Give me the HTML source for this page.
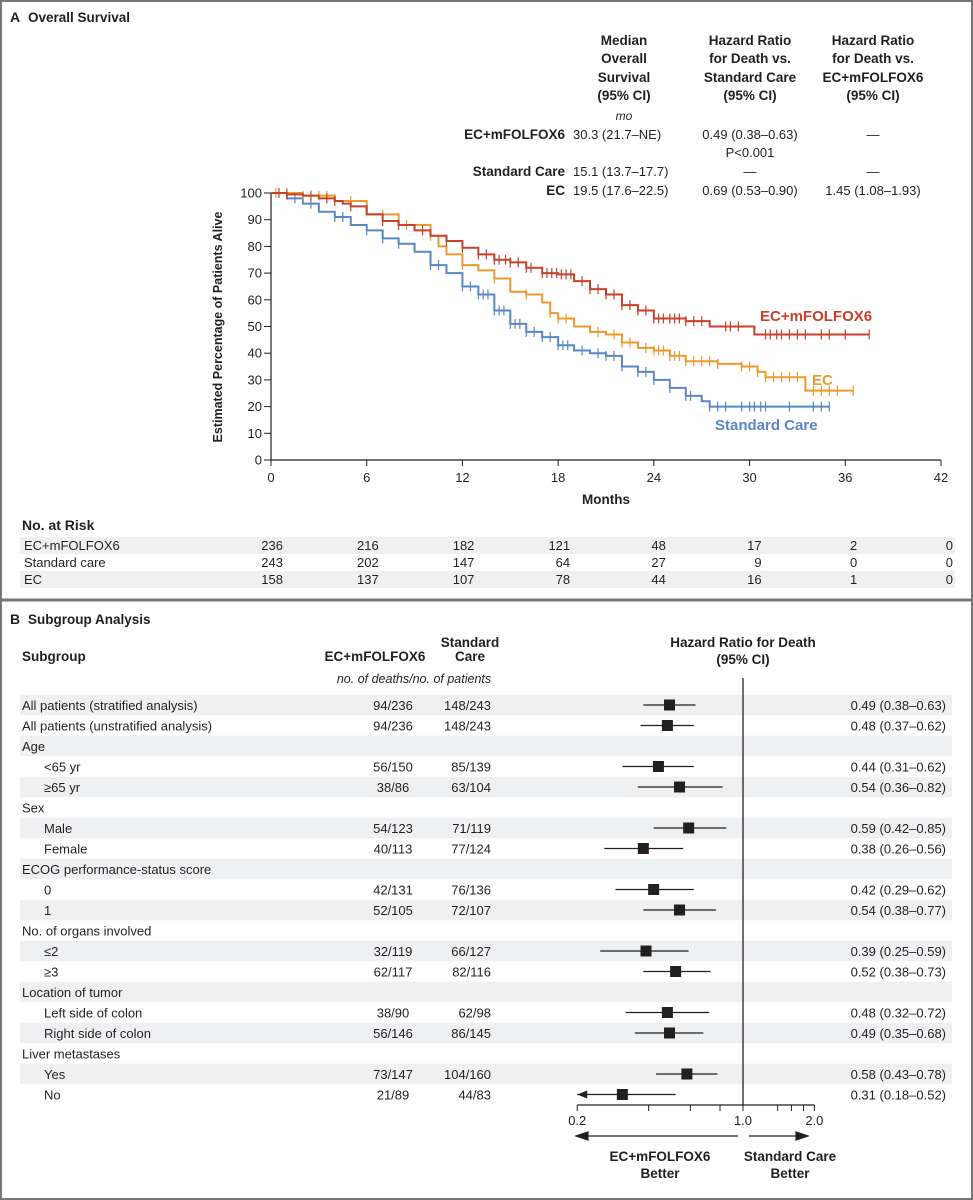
<!DOCTYPE html>
<html><head><meta charset="utf-8"><style>
html,body{margin:0;padding:0;background:#fff}
svg{display:block}
text{font-family:"Liberation Sans",sans-serif;fill:#231f20}
.b{font-weight:bold}
.w{font-family:"Liberation Sans",sans-serif}
</style></head><body>
<svg id="fig" width="973" height="1200" viewBox="0 0 973 1200" xmlns="http://www.w3.org/2000/svg">
<rect x="1" y="1" width="971" height="1198" fill="#fff" stroke="#777" stroke-width="2"/>
<line x1="0" y1="600" x2="973" y2="600" stroke="#777" stroke-width="3"/>
<g><text x="10" y="22" class="b w" font-size="14">A</text><text x="28" y="22" class="b w" font-size="13.5">Overall Survival</text></g>
<g font-size="13">
<g class="b w" text-anchor="middle" font-size="13.5">
<text x="624" y="45">Median</text><text x="624" y="63">Overall</text><text x="624" y="82">Survival</text><text x="624" y="100">(95% CI)</text>
<text x="750" y="45">Hazard Ratio</text><text x="750" y="63">for Death vs.</text><text x="750" y="82">Standard Care</text><text x="750" y="100">(95% CI)</text>
<text x="873" y="45">Hazard Ratio</text><text x="873" y="63">for Death vs.</text><text x="873" y="82">EC+mFOLFOX6</text><text x="873" y="100">(95% CI)</text>
</g>
<text x="624" y="120" text-anchor="middle" font-style="italic" font-size="12">mo</text>
<g class="b w" text-anchor="end" font-size="13.5"><text x="565" y="139">EC+mFOLFOX6</text><text x="565" y="176">Standard Care</text><text x="565" y="195">EC</text></g>
<text x="573" y="139">30.3 (21.7–NE)</text><text x="573" y="176">15.1 (13.7–17.7)</text><text x="573" y="195">19.5 (17.6–22.5)</text>
<g text-anchor="middle"><text x="750" y="139">0.49 (0.38–0.63)</text><text x="750" y="157">P&lt;0.001</text><text x="750" y="176">—</text><text x="750" y="195">0.69 (0.53–0.90)</text>
<text x="873" y="139">—</text><text x="873" y="176">—</text><text x="873" y="195">1.45 (1.08–1.93)</text></g>
</g>
<g id="km"></g>
<text transform="translate(222,327) rotate(-90)" text-anchor="middle" class="b w" font-size="12.5">Estimated Percentage of Patients Alive</text>
<text x="606" y="504" text-anchor="middle" class="b w" font-size="13.5">Months</text>
<g id="risk"></g>
<g><text x="10" y="624" class="b w" font-size="14">B</text><text x="28" y="624" class="b w" font-size="13.5">Subgroup Analysis</text></g>
<g class="b w" font-size="13.5">
<text x="22" y="661">Subgroup</text>
<text x="375" y="661" text-anchor="middle">EC+mFOLFOX6</text>
<text x="470" y="647" text-anchor="middle">Standard</text><text x="470" y="661" text-anchor="middle">Care</text>
<text x="743" y="647" text-anchor="middle">Hazard Ratio for Death</text><text x="743" y="664" text-anchor="middle">(95% CI)</text>
</g>
<text x="414" y="683" text-anchor="middle" font-style="italic" font-size="12.5">no. of deaths/no. of patients</text>
<g id="forest"></g>
<g class="b w" font-size="13.5" text-anchor="middle">
<text x="660" y="1161">EC+mFOLFOX6</text><text x="660" y="1178">Better</text>
<text x="790" y="1161">Standard Care</text><text x="790" y="1178">Better</text>
</g>
</svg>
<script>
const NS="http://www.w3.org/2000/svg";
// KM data
const xTicks=[0,6,12,18,24,30,36,42];
const yTicks=[0,10,20,30,40,50,60,70,80,90,100];
const redT=[0,1,2,3,4,4.5,5,6,7,8,9,10,11,12,13,14,15,16,17,18,19,20,21,22,23,24,26,27.5,30.3,37.5];
const redS=[100,99.5,99,98,97,96,95,92,89.5,88,86,84,82,79.5,77,75,74,72,70,69.5,67,64,62,58,56,53,52,50,47,47];
const blueT=[0,1,2,3,4,5,6,7,8,9,10,11,12,13,14,15,16,17,18,19,20,21,22,23,24,25,26,27,27.5,35];
const blueS=[100,98,96,93,91,88,86,83,81,78,73,70,65,62,56,51,48,46,43,41,40,39,35,33,30,27,24,22,20,20];
const orT=[0,2,4,6,8,10,10.5,11,12,13,14,15,16,17,17.5,18,19,20,21,22,23,24,25,26,28,29.5,30.5,31,33.5,36.5];
const orS=[100,99,97,92,88,84,80,77,73,71,68,63,62,59,55,53,50,48,47,44,42,41,39,37,36,35,33,31,26,26];
const redC=[0.5,1,2.5,3.5,4,5,7,8,9.5,11,12,13,13.5,14,14.3,14.7,15,15.5,16,16.3,17,17.3,17.6,17.9,18.2,18.5,18.8,19.5,20,20.5,21,21.5,22,22.5,23,23.5,24,24.3,24.6,25,25.3,25.6,26,26.5,27,28.5,28.8,29.3,31,31.3,31.7,32,32.5,33,33.5,34.5,35,36,37.5];
const blueC=[1.5,2.5,4,4.5,6,7,8,10,10.5,12,12.5,13,13.3,13.6,14,14.3,14.6,15,15.3,15.6,16,16.5,17,17.5,18,18.3,18.6,19.5,20.5,21,21.5,22,23,23.5,24,25,26,26.3,27.5,28,28.5,29.5,30,30.3,30.7,31,32.5,34,34.5,35];
const orC=[0.3,1,2,3,3.5,5,7,8.5,10,12,14,16,17.5,18,18.5,20.5,21.5,22,22.5,23.5,24,24.3,24.6,25,25.3,25.6,26,26.5,27,27.5,28,29.5,30,30.5,31,31.5,32,32.5,33,34,34.5,35,35.5,36.5];
// risk table
const riskGroups=["EC+mFOLFOX6","Standard care","EC"];
const riskRed=[236,216,182,121,48,17,2,0];
const riskBlue=[243,202,147,64,27,9,0,0];
const riskOr=[158,137,107,78,44,16,1,0];
// forest data
const fLabels=["All patients (stratified analysis)","All patients (unstratified analysis)","Age","<65 yr","≥65 yr","Sex","Male","Female","ECOG performance-status score","0","1","No. of organs involved","≤2","≥3","Location of tumor","Left side of colon","Right side of colon","Liver metastases","Yes","No"];
const fIndent=[0,0,0,1,1,0,1,1,0,1,1,0,1,1,0,1,1,0,1,1];
const fEC=["94/236","94/236","","56/150","38/86","","54/123","40/113","","42/131","52/105","","32/119","62/117","","38/90","56/146","","73/147","21/89"];
const fSC=["148/243","148/243","","85/139","63/104","","71/119","77/124","","76/136","72/107","","66/127","82/116","","62/98","86/145","","104/160","44/83"];
const fHR=[0.49,0.48,null,0.44,0.54,null,0.59,0.38,null,0.42,0.54,null,0.39,0.52,null,0.48,0.49,null,0.58,0.31];
const fLo=[0.38,0.37,null,0.31,0.36,null,0.42,0.26,null,0.29,0.38,null,0.25,0.38,null,0.32,0.35,null,0.43,0.18];
const fHi=[0.63,0.62,null,0.62,0.82,null,0.85,0.56,null,0.62,0.77,null,0.59,0.73,null,0.72,0.68,null,0.78,0.52];
const hrTicks=[0.2,0.4,0.6,0.8,1.0,1.4,1.6,1.8,2.0];
const hrLabels=[0.2,1.0,2.0];

function el(tag,attrs,parent,txt){const e=document.createElementNS(NS,tag);for(const k in attrs)e.setAttribute(k,attrs[k]);if(txt!==undefined)e.textContent=txt;parent.appendChild(e);return e;}
const X=m=>271+m*(941-271)/42, Y=v=>460-v*(460-193)/100;
const km=document.getElementById('km');
let ax=el('line',{x1:271,y1:Y(0),x2:941,y2:Y(0),stroke:'#231f20','stroke-width':1.2},km);


let ay=el('line',{x1:271,y1:Y(0),x2:271,y2:Y(100),stroke:'#231f20','stroke-width':1.2},km);


xTicks.forEach(t=>{el('line',{x1:X(t),y1:Y(0),x2:X(t),y2:Y(0)+6,stroke:'#231f20'},km);
 const tx=el('text',{x:X(t),y:Y(0)+22,'text-anchor':'middle','font-size':13},km,t);
 
 });
yTicks.forEach(t=>{el('line',{x1:264,y1:Y(t),x2:271,y2:Y(t),stroke:'#231f20'},km);
 const tx=el('text',{x:262,y:Y(t)+4.5,'text-anchor':'end','font-size':13},km,t);
 
 });
function surv(T,S,t){let v=S[0];for(let i=0;i<T.length;i++){if(T[i]<=t)v=S[i];}return v;}
function drawSeries(T,S,C,color,name){
 let d='M'+X(T[0])+','+Y(S[0]);
 for(let i=1;i<T.length;i++){d+=' H'+X(T[i])+' V'+Y(S[i]);}
 const p=el('path',{d:d,fill:'none',stroke:color,'stroke-width':2},km);
 
 
 let cd='';C.forEach(c=>{const y=Y(surv(T,S,c));cd+='M'+X(c)+','+(y-5)+' V'+(y+5)+' ';});
 const q=el('path',{d:cd,fill:'none',stroke:color,'stroke-width':1.2},km);
 
 
}
drawSeries(blueT,blueS,blueC,'#5a86c6','standard-care');
drawSeries(orT,orS,orC,'#eb9a2c','ec');
drawSeries(redT,redS,redC,'#c9402c','ec-mfolfox6');
let l1=el('text',{x:760,y:321,'font-size':15,'class':'b w',style:'fill:#c9402c'},km,'EC+mFOLFOX6');


let l2=el('text',{x:812,y:385,'font-size':15,'class':'b w',style:'fill:#eb9a2c'},km,'EC');


let l3=el('text',{x:715,y:430,'font-size':15,'class':'b w',style:'fill:#5a86c6'},km,'Standard Care');



const risk=document.getElementById('risk');
let rt=el('text',{x:22,y:530,'class':'b','font-size':14},risk,'No. at Risk');


const rvals=[riskRed,riskBlue,riskOr];
riskGroups.forEach((g,i)=>{const y=545+i*17;
 if(i!==1){const r=el('rect',{x:20,y:y-8,width:935,height:17,fill:'#eef0f2'},risk);}
 const lt=el('text',{x:24,y:y+5,'font-size':13},risk,g);
 
 
 rvals[i].forEach((v,j)=>{const t=el('text',{x:X(xTicks[j])+12,y:y+5,'text-anchor':'end','font-size':13},risk,v);
  
  });
});

const fo=document.getElementById('forest');
const HX=h=>743+103*Math.log(h);
fLabels.forEach((lab,i)=>{const yc=705+i*20.5;
 if(i%2===0){const r=el('rect',{x:20,y:yc-10.25,width:932,height:20.5,fill:'#eef0f2'},fo);}
 const t=el('text',{x:fIndent[i]?44:22,y:yc+5,'font-size':13,'class':'w'},fo,lab);
 
 
 if(fEC[i]){const a=el('text',{x:393,y:yc+5,'text-anchor':'middle','font-size':13,'class':'w'},fo,fEC[i]);
  
  
  const b=el('text',{x:491,y:yc+5,'text-anchor':'end','font-size':13,'class':'w'},fo,fSC[i]);
  
  }
});
let vl=el('line',{x1:743,y1:678,x2:743,y2:1106,stroke:'#231f20','stroke-width':1.3},fo);


fLabels.forEach((lab,i)=>{if(fHR[i]===null)return;const yc=705+i*20.5;
 const lo=Math.max(fLo[i],0.2);
 const ci=el('line',{x1:HX(lo),y1:yc,x2:HX(fHi[i]),y2:yc,stroke:'#231f20','stroke-width':1.3},fo);
 
 
 if(fLo[i]<0.2){const ar=el('path',{d:'M'+(HX(0.2))+','+yc+' l10,-4 v8 z',fill:'#231f20'},fo);}
 const sq=el('rect',{x:HX(fHR[i])-5.5,y:yc-5.5,width:11,height:11,fill:'#231f20'},fo);
 
 
 const t=el('text',{x:946,y:yc+5,'text-anchor':'end','font-size':13,'class':'w'},fo,fHR[i].toFixed(2)+' ('+fLo[i].toFixed(2)+'–'+fHi[i].toFixed(2)+')');
 
 
});
let hx=el('line',{x1:HX(0.2),y1:1105,x2:HX(2),y2:1105,stroke:'#231f20','stroke-width':1.2},fo);


hrTicks.forEach(t=>{el('line',{x1:HX(t),y1:1105,x2:HX(t),y2:1111,stroke:'#231f20'},fo);});
hrLabels.forEach(t=>{const tx=el('text',{x:HX(t),y:1125,'text-anchor':'middle','font-size':13,'class':'w'},fo,t.toFixed(1));
 
 });
let a1=el('path',{d:'M738,1136 H584 M576,1136 l12,-4 v8 z',stroke:'#231f20',fill:'#231f20','stroke-width':1.2},fo);


let a2=el('path',{d:'M749,1136 H800 M808,1136 l-12,-4 v8 z',stroke:'#231f20',fill:'#231f20','stroke-width':1.2},fo);


</script>
</body></html>
